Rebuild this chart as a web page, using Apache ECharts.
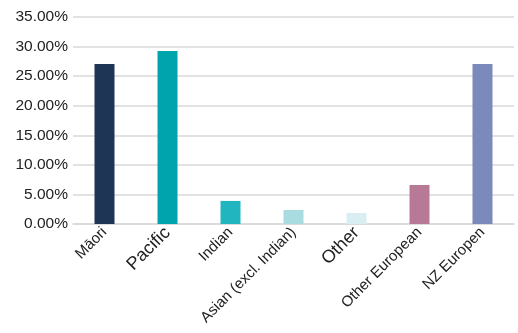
<!DOCTYPE html>
<html>
<head>
<meta charset="utf-8">
<script src="https://cdn.jsdelivr.net/npm/echarts@6/dist/echarts.min.js"></script>
<style>
  html, body { margin: 0; padding: 0; background: #fff; }
  #chart { width: 518px; height: 333px; }
</style>
</head>
<body>
<div id="chart"></div>
<script>
// categories and values (percent)
var categories = ['Māori', 'Pacific', 'Indian', 'Asian (excl. Indian)', 'Other', 'Other European', 'NZ Europen'];
var values = [27.05, 29.25, 3.9, 2.37, 1.86, 6.6, 27.05];
var barColors = ['#1f3556', '#00a4ac', '#21b6bf', '#a8dce0', '#d9eef0', '#b77a96', '#7b8aba'];
var labelSizes = [15, 18, 15, 15, 18, 15, 15];

var chart = echarts.init(document.getElementById('chart'));

chart.setOption({
  animation: false,
  grid: { left: 73, right: 4, top: 17, bottom: 109 },
  xAxis: {
    type: 'category',
    data: categories.map(function (c, i) {
      return { value: c, textStyle: { fontSize: labelSizes[i] } };
    }),
    axisTick: { show: false },
    axisLine: { lineStyle: { color: '#d9d9d9', width: 1.5 } },
    axisLabel: {
      rotate: 45,
      interval: 0,
      margin: 6,
      color: '#222',
      fontFamily: 'Liberation Sans'
    }
  },
  yAxis: {
    type: 'value',
    min: 0,
    max: 35,
    interval: 5,
    axisLabel: {
      formatter: function (v) { return v.toFixed(2) + '%'; },
      fontSize: 15.5,
      color: '#222',
      margin: 5,
      fontFamily: 'Liberation Sans'
    },
    splitLine: { lineStyle: { color: '#d9d9d9', width: 1.5 } }
  },
  series: [{
    type: 'bar',
    barWidth: 20,
    data: values.map(function (v, i) {
      return { value: v, itemStyle: { color: barColors[i] } };
    })
  }]
});
</script>
</body>
</html>
